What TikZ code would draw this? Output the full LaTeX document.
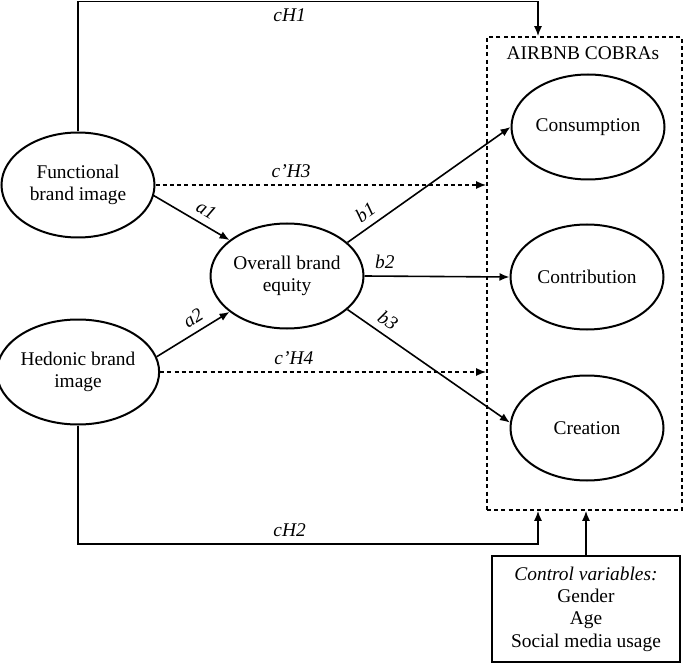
\documentclass[tikz,border=0pt]{standalone}
\usepackage{fontspec}
\setmainfont{Liberation Serif}
\usetikzlibrary{arrows.meta, positioning, shapes.geometric, calc}

\begin{document}
\begin{tikzpicture}[x=0.5pt, y=-0.5pt,
    every node/.style={font=\fontsize{9.7}{11.2}\selectfont},
    construct/.style={draw, ellipse, line width=1pt, minimum width=76.5pt,
      minimum height=52.5pt, inner sep=0pt, align=center},
    link/.style={line width=0.8pt, -{Latex[length=5pt,width=4pt]}},
    direct/.style={link, dash pattern=on 2pt off 1.6pt},
    coef/.style={font=\fontsize{9.7}{11.2}\selectfont\itshape}]
  \useasboundingbox (0,0) rectangle (685,663);
  % constructs
  \node[construct] (func) at (78,185) {Functional\\brand image};
  \node[construct] (hed) at (78,372) {Hedonic brand\\image};
  \node[construct] (obe) at (287,276) {Overall brand\\equity};
  \node[construct] (cons) at (588,127) {Consumption};
  \node[construct] (contr) at (587,277) {Contribution};
  \node[construct] (crea) at (587,428) {Creation};
  \node[draw, line width=0.8pt, dash pattern=on 2pt off 1.6pt, inner sep=0pt,
    minimum width=97.5pt, minimum height=236.5pt] (cobras) at (584.5,273.5) {};
  \node (cobrasLbl) at (583,53) {AIRBNB COBRAs};
  \node[draw, line width=0.9pt, align=center, inner sep=0pt,
    minimum width=94pt, minimum height=53pt] (ctrl) at (586,609)
    {\textit{Control variables:}\\Gender\\Age\\Social media usage};
  % paths
  \draw[link] (func.-8) -- (obe.148) node[coef, pos=0.6, sloped, above] {a1};
  \draw[link] (hed.11) -- (obe.212) node[coef, pos=0.6, sloped, above] {a2};
  \draw[link] (obe.29) -- (cons.west) node[coef, pos=0.16, sloped, above] {b1};
  \draw[link] (obe.east) -- (contr.west) node[coef, pos=0.14, above] {b2};
  \draw[link] (obe.-29.5) -- (crea.176) node[coef, pos=0.2, sloped, above] {b3};
  \draw[direct] (func.east) -- (func.east -| cobras.west) node[coef, pos=0.41, above] {c’H3};
  \draw[direct] (hed.east) -- (hed.east -| cobras.west) node[coef, pos=0.41, above] {c’H4};
  % direct effects round the outside
  \coordinate (topBend) at (538,1.5);
  \coordinate (botBend) at (538,544);
  \draw[link] (func.north) |- (topBend) node[coef, pos=0.73, below] {cH1} -- (topBend |- cobras.north);
  \draw[link] (hed.south) |- (botBend) node[coef, pos=0.73, above] {cH2} -- (botBend |- cobras.south);
  \draw[link] (ctrl.north) -- (ctrl.north |- cobras.south);
\end{tikzpicture}
\end{document}
